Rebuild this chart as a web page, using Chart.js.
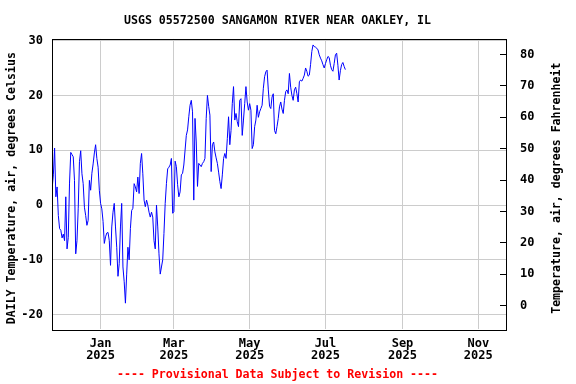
<!DOCTYPE html>
<html>
<head>
<meta charset="utf-8">
<script src="https://cdn.jsdelivr.net/npm/chart.js@4"></script>
<style>
  html, body { margin: 0; padding: 0; background: #fff; }
  #wrap { width: 576px; height: 384px; }
</style>
</head>
<body>
<div id="wrap"><canvas id="tempChart" width="576" height="384"></canvas></div>
<script>
// days counted from Jan 1 2025; first reading is Nov 23 2024
const firstDay = -39;
const dailyTemp = [
  3, 5.5, 10.4, 1.5, 3.3, -1.9, -4.3, -4.6, -6, -5.3,
  -6.5, 1.5, -8, -5.9, 4, 9.6, 9.2, 8.8, 4.5, -8.9,
  -6.5, -0.7, 7.9, 9.9, 5.7, 3.9, -0.4, -1.9, -3.7, -2.8,
  4.5, 2.7, 5.8, 7.5, 9.5, 11, 8.5, 6.9, 2.7,
  0.3, -0.7, -3, -7, -5.8, -5.1, -5, -6.5, -11, -4,
  -1.3, 0.3, -4, -7.7, -13, -10.7, -4, 0.3, -11.3, -14,
  -17.9, -12.6, -7.7, -10, -4.3, -1, -0.6, 3.9, 3.3, 2.4,
  5.1, 2.1, 7.6, 9.4, 5.7, 0.9, -0.3, 0.9, 0, -1.3,
  -2.2, -1.3, -2.2, -6.5, -8, 0, -4, -8.9, -12.6, -11.3,
  -10, -5.2, 0.3, 3.9, 6.6, 6.9, 7.3, 8.5, -1.5, -1.2,
  8, 7, 3.7, 1.5, 2.4, 5.5, 5.8, 7.3, 10, 12.7,
  13.7, 16.1, 18.2, 19.1, 17, 0.9, 15.8, 11.5, 3.4, 7.6,
  7.3, 7, 7.6, 7.9, 8.5, 15.8, 20, 18, 16.4, 6.1,
  11, 11.5, 9.7, 8.6, 7.6, 6, 4.3, 3, 5.5, 8.5,
  9.4, 8.5, 12.1, 16.1, 11, 13.6, 18.5, 21.6, 15.5, 16.7,
  15.2, 14.3, 19.1, 19.4, 12.7, 15.5, 18.5, 21.6, 18.8, 17.3,
  18.5, 17.3, 10.3, 11, 14.3, 15.5, 18.2, 16, 17, 17.6,
  18.2, 21.3, 23.4, 24.3, 24.6, 21, 18, 17.6, 19.7, 20.3,
  13.6, 13, 14.3, 15.8, 17.9, 18.8, 17.5, 16.7, 19.1, 20.7,
  21, 20.3, 24, 21.5, 20, 19.1, 21, 21.5, 20.3, 18.8,
  22.5, 22.8, 22.6, 23.1, 23.7, 25, 24.4, 23.5, 23.7, 25.6,
  28, 29.2, 28.9, 28.8, 28.6, 28.3, 27.4, 26.8, 26.3, 25.6,
  25, 25.8, 26.5, 27.1, 26.9, 25.5, 24.7, 24.4, 25.8, 27.4,
  27.7, 25.5, 22.8, 24.5, 25.6, 26, 25.3, 24.7
];

const monthTickDays = [0, 59, 120, 181, 243, 304];
const monthTickNames = ["Jan", "Mar", "May", "Jul", "Sep", "Nov"];
const tickYear = "2025";
const celsiusTicks = [-20, -10, 0, 10, 20, 30];
const fahrenheitTicks = [0, 10, 20, 30, 40, 50, 60, 70, 80];

const chartTitle = "USGS 05572500 SANGAMON RIVER NEAR OAKLEY, IL";
const footerText = "---- Provisional Data Subject to Revision ----";
const leftTitle = "DAILY Temperature, air, degrees Celsius";
const rightTitle = "Temperature, air, degrees Fahrenheit";

const points = dailyTemp.map((v, i) => ({ x: firstDay + i, y: v }));

const MONO = "'DejaVu Sans Mono', 'Liberation Mono', monospace";
Chart.defaults.font.family = MONO;
Chart.defaults.font.weight = "bold";
Chart.defaults.font.size = 12;
Chart.defaults.color = "#000";

// box round the plot and the two side titles (both read bottom to top)
const framePlugin = {
  id: "frame",
  afterDraw(chart) {
    const { ctx, chartArea: a } = chart;
    ctx.save();
    ctx.strokeStyle = "#000";
    ctx.lineWidth = 1;
    ctx.strokeRect(Math.round(a.left) + 0.5, Math.round(a.top) + 0.5,
      Math.round(a.right - a.left), Math.round(a.bottom - a.top));

    ctx.font = "bold 11.6px " + MONO;
    ctx.fillStyle = "#000";
    ctx.textAlign = "center";
    ctx.textBaseline = "middle";
    const midY = (a.top + a.bottom) / 2 + 4;
    [[12, leftTitle], [557, rightTitle]].forEach(([x, text]) => {
      ctx.save();
      ctx.translate(x, midY);
      ctx.rotate(-Math.PI / 2);
      ctx.fillText(text, 0, 0);
      ctx.restore();
    });
    ctx.restore();
  }
};

new Chart(document.getElementById("tempChart"), {
  type: "line",
  data: {
    datasets: [{
      data: points,
      borderColor: "#0000ff",
      borderWidth: 1,
      pointRadius: 0,
      tension: 0,
      fill: false
    }]
  },
  options: {
    responsive: false,
    animation: false,
    parsing: false,
    layout: { padding: { left: 0, right: 21, top: 0, bottom: 0 } },
    plugins: {
      legend: { display: false },
      tooltip: { enabled: false },
      title: {
        display: true,
        text: chartTitle,
        color: "#000",
        font: { size: 11.6, weight: "bold", lineHeight: 1.2 },
        padding: { top: 14, bottom: 11 }
      },
      subtitle: {
        display: true,
        position: "bottom",
        text: footerText,
        color: "#ff0000",
        font: { size: 11.6, weight: "bold", lineHeight: 1.2 },
        padding: { top: 0, bottom: 2 }
      }
    },
    scales: {
      x: {
        type: "linear",
        min: -39.1,
        max: 326.3,
        afterBuildTicks: scale => {
          scale.ticks = monthTickDays.map(v => ({ value: v }));
        },
        afterFit: scale => { scale.height = 38.6; },
        ticks: {
          autoSkip: false,
          maxRotation: 0,
          padding: 8,
          font: { size: 12, lineHeight: 1.04 },
          callback: value => {
            const i = monthTickDays.indexOf(value);
            return i < 0 ? "" : [monthTickNames[i], tickYear];
          }
        },
        grid: { color: "#cccccc", lineWidth: 1, drawTicks: false },
        border: { display: false }
      },
      y: {
        position: "left",
        min: -22.7,
        max: 30.3,
        afterBuildTicks: scale => {
          scale.ticks = celsiusTicks.map(v => ({ value: v }));
        },
        afterFit: scale => { scale.width = 52; },
        ticks: { padding: 9, font: { size: 12 } },
        grid: { color: "#cccccc", lineWidth: 1, drawTicks: false },
        border: { display: false }
      },
      y2: {
        position: "right",
        min: -7.6,
        max: 85.0,
        afterBuildTicks: scale => {
          scale.ticks = fahrenheitTicks.map(v => ({ value: v }));
        },
        afterFit: scale => { scale.width = 49; },
        ticks: { padding: 20, font: { size: 12 } },
        grid: { drawOnChartArea: false, tickLength: -6, tickColor: "#000" },
        border: { display: false }
      }
    }
  },
  plugins: [framePlugin]
});
</script>
</body>
</html>
